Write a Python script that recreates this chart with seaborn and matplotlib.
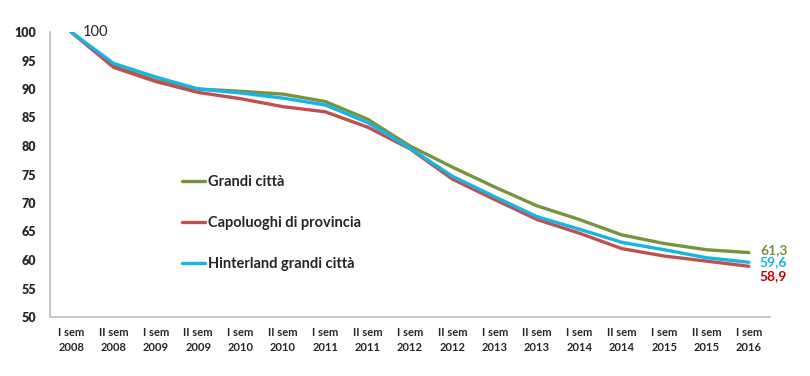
import pandas as pd
import seaborn as sns
import matplotlib.pyplot as plt

# dataset

periods = ['I sem\n2008', 'II sem\n2008', 'I sem\n2009', 'II sem\n2009', 'I sem\n2010',
           'II sem\n2010', 'I sem\n2011', 'II sem\n2011', 'I sem\n2012', 'II sem\n2012',
           'I sem\n2013', 'II sem\n2013', 'I sem\n2014', 'II sem\n2014', 'I sem\n2015',
           'II sem\n2015', 'I sem\n2016']
y_ticks = list(range(50, 101, 5))
grandi_citta = [100, 94.0, 91.5, 90.0, 89.6, 89.1, 87.8, 84.7, 80.0, 76.3, 72.8, 69.5,
                67.1, 64.4, 62.9, 61.8, 61.3]
capoluoghi = [100, 93.8, 91.3, 89.4, 88.3, 86.9, 86.0, 83.3, 79.5, 74.2, 70.6, 67.1,
              64.7, 62.0, 60.7, 59.8, 58.9]
hinterland = [100, 94.5, 92.1, 90.0, 89.3, 88.4, 87.2, 84.1, 79.6, 74.7, 71.1, 67.6,
              65.4, 63.1, 61.8, 60.4, 59.6]

series = {
    'Grandi città': grandi_citta,
    'Capoluoghi di provincia': capoluoghi,
    'Hinterland grandi città': hinterland,
}
colors = {
    'Grandi città': '#77933C',
    'Capoluoghi di provincia': '#C0504D',
    'Hinterland grandi città': '#17B4E8',
}

rows = []
for name, vals in series.items():
    for i, v in enumerate(vals):
        rows.append({'pos': i, 'valore': v, 'serie': name})
df = pd.DataFrame(rows)

sns.set_style('white')
plt.rcParams['font.family'] = ['Lato', 'DejaVu Sans']

fig = plt.figure(figsize=(8.1, 3.76), dpi=100)
ax = fig.add_axes([50 / 810, 1 - 317 / 376, 720 / 810, 285 / 376])

sns.lineplot(data=df, x='pos', y='valore', hue='serie', palette=colors,
             linewidth=2.4, ax=ax, legend=False, sort=False)

ax.set_xlim(-0.5, len(periods) - 0.5)
ax.set_ylim(50, 100)
ax.set_yticks(y_ticks)
ax.set_yticklabels([str(t) for t in y_ticks], fontsize=9, fontweight='heavy')
ax.set_xticks(range(len(periods)))
ax.set_xticklabels(periods, fontsize=8, fontweight='bold', linespacing=1.5)
ax.tick_params(axis='y', length=0, pad=10)
ax.tick_params(axis='x', length=0, pad=7)
ax.set_xlabel('')
ax.set_ylabel('')

for side in ['top', 'right']:
    ax.spines[side].set_visible(False)
for side in ['left', 'bottom']:
    ax.spines[side].set_color('#BFBFBF')
    ax.spines[side].set_linewidth(1.2)

# legend
handles = [plt.Line2D([], [], color=colors[n], linewidth=2.4) for n in series]
leg = ax.legend(handles, list(series.keys()), loc='upper left',
                bbox_to_anchor=(0.165, 0.545), frameon=False, labelspacing=1.85,
                handlelength=1.6, handletextpad=0.2, prop={'size': 10.5, 'weight': 'bold'})

# data labels
ax.annotate('100', (0, grandi_citta[0]), xytext=(8, 0), textcoords='offset points',
            ha='left', va='center', fontsize=10.5)
ax.annotate(f"{grandi_citta[-1]:.1f}".replace('.', ','), (16, grandi_citta[-1]),
            xytext=(8, 2), textcoords='offset points', ha='left', va='center',
            fontsize=10, fontweight='bold', color='#77933C')
ax.annotate(f"{hinterland[-1]:.1f}".replace('.', ','), (16, hinterland[-1]),
            xytext=(8, 0), textcoords='offset points', ha='left', va='center',
            fontsize=10, fontweight='bold', color='#17B4E8')
ax.annotate(f"{capoluoghi[-1]:.1f}".replace('.', ','), (16, capoluoghi[-1]),
            xytext=(8, -7), textcoords='offset points', ha='left', va='center',
            fontsize=10, fontweight='bold', color='#C00000')

fig.savefig('out.png', dpi=100)
